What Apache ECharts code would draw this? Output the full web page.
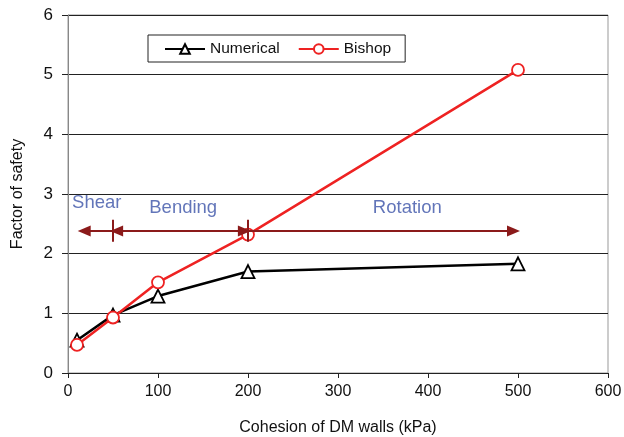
<!DOCTYPE html>
<html>
<head>
<meta charset="utf-8">
<script src="https://cdn.jsdelivr.net/npm/echarts@6/dist/echarts.min.js"></script>
<style>
  html, body { margin: 0; padding: 0; background: #fff; }
  #chart { width: 624px; height: 437px; }
</style>
</head>
<body>
<div id="chart"></div>
<script>
const cohesion = [10, 50, 100, 200, 500];
const numerical = [0.55, 0.97, 1.29, 1.70, 1.83];
const bishop = [0.47, 0.93, 1.52, 2.32, 5.08];

const arrowLevel = 2.38;
const zoneBounds = [10, 50, 200, 500];
const zoneNames = ['Shear', 'Bending', 'Rotation'];
const zoneLabelPos = [[32, 2.85], [128, 2.77], [377, 2.77]];

const font = '"Liberation Sans", Arial, sans-serif';
const arrowColor = '#8b1a1a';

const pairs = (xs, ys) => xs.map((x, i) => [x, ys[i]]);

const zoneLines = [
  [{ coord: [zoneBounds[1], arrowLevel], symbol: 'none' }, { coord: [zoneBounds[0] + 8, arrowLevel], symbol: 'triangle' }],
  [{ coord: [zoneBounds[1] + 4, arrowLevel], symbol: 'triangle' }, { coord: [zoneBounds[2] - 4, arrowLevel], symbol: 'triangle' }],
  [{ coord: [zoneBounds[2], arrowLevel], symbol: 'none' }, { coord: [zoneBounds[3] - 5, arrowLevel], symbol: 'triangle' }],
  [{ coord: [zoneBounds[1], 2.2], symbol: 'none' }, { coord: [zoneBounds[1], 2.57], symbol: 'none' }],
  [{ coord: [zoneBounds[2], 2.2], symbol: 'none' }, { coord: [zoneBounds[2], 2.57], symbol: 'none' }],
];

const chart = echarts.init(document.getElementById('chart'), null, { renderer: 'canvas' });

chart.setOption({
  backgroundColor: '#fff',
  animation: false,
  textStyle: { fontFamily: font },
  grid: {
    left: 68, right: 16, top: 15, bottom: 64,
    outerBoundsMode: 'none',
    containLabel: false,
    show: true, borderColor: '#999', borderWidth: 1,
  },
  legend: {
    data: ['Numerical', 'Bishop'],
    left: 148,
    top: 35,
    padding: [6, 14, 5, 16],
    itemGap: 18,
    itemWidth: 40,
    itemHeight: 12,
    borderColor: '#222',
    borderWidth: 1,
    textStyle: { fontSize: 15.5, color: '#111', fontFamily: font },
  },
  xAxis: {
    type: 'value',
    min: 0,
    max: 600,
    interval: 100,
    name: 'Cohesion of DM walls (kPa)',
    nameLocation: 'middle',
    nameGap: 47,
    nameTextStyle: { fontSize: 16, color: '#111', fontFamily: font },
    axisLine: { lineStyle: { color: '#222' } },
    axisTick: { show: true, inside: false, length: 5, lineStyle: { color: '#222' } },
    axisLabel: { fontSize: 16, color: '#111', margin: 11 },
    splitLine: { show: false },
  },
  yAxis: {
    type: 'value',
    min: 0,
    max: 6,
    interval: 1,
    name: 'Factor of safety',
    nameLocation: 'middle',
    nameGap: 42,
    nameTextStyle: { fontSize: 16, color: '#111', fontFamily: font },
    axisLine: { show: true, lineStyle: { color: '#888' } },
    axisTick: { show: true, inside: false, length: 6, lineStyle: { color: '#222' } },
    axisLabel: { fontSize: 17, color: '#111', margin: 15 },
    splitLine: { show: true, lineStyle: { color: '#222', width: 1 } },
  },
  series: [
    {
      name: 'Numerical',
      type: 'line',
      data: pairs(cohesion, numerical),
      symbol: 'triangle',
      symbolSize: 13,
      lineStyle: { color: '#000', width: 2.5 },
      itemStyle: { color: '#fff', borderColor: '#000', borderWidth: 1.8 },
      z: 3,
    },
    {
      name: 'Bishop',
      type: 'line',
      data: pairs(cohesion, bishop),
      symbol: 'circle',
      symbolSize: 12,
      lineStyle: { color: '#ee2222', width: 2.5 },
      itemStyle: { color: '#fff', borderColor: '#ee2222', borderWidth: 1.8 },
      z: 4,
    },
    {
      name: 'zones',
      type: 'scatter',
      data: zoneLabelPos.map((p, i) => ({ value: p, name: zoneNames[i] })),
      symbolSize: 0,
      label: {
        show: true,
        position: 'inside',
        formatter: (p) => p.name,
        fontSize: 18.5,
        color: '#3b52a8',
        fontFamily: font,
      },
      silent: true,
      z: 5,
      markLine: {
        silent: true,
        symbolSize: [11, 13],
        label: { show: false },
        lineStyle: { color: arrowColor, width: 2, type: 'solid' },
        itemStyle: { color: arrowColor },
        data: zoneLines,
      },
    },
  ],
});
</script>
</body>
</html>
